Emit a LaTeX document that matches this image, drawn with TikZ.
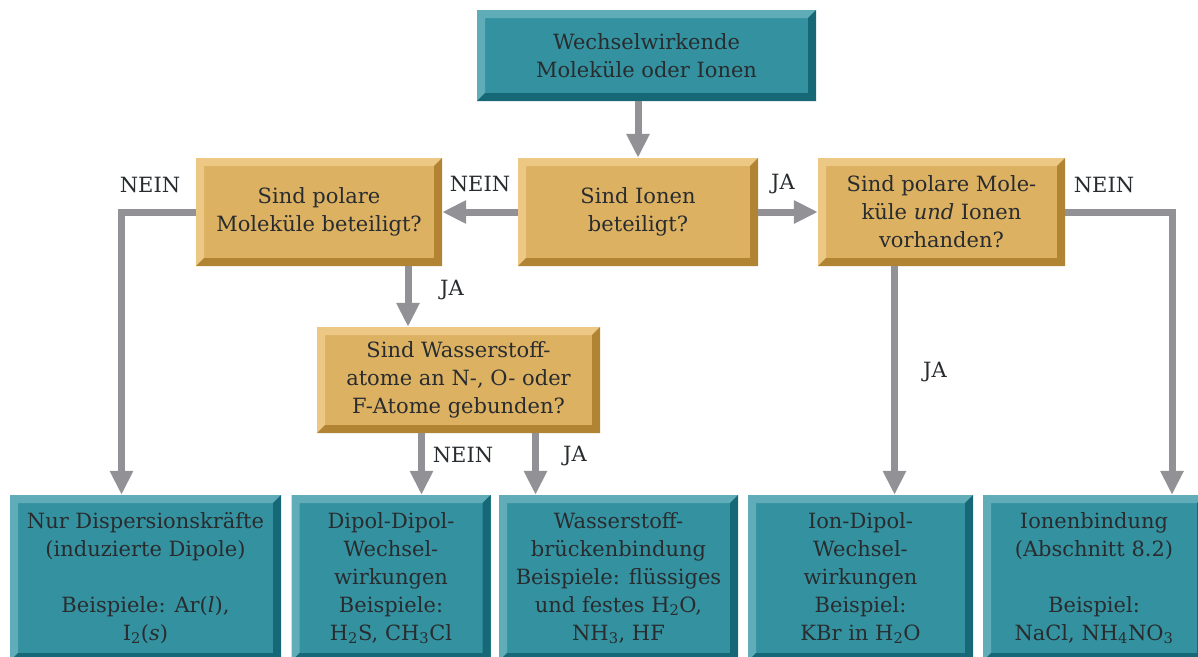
\documentclass[tikz,border=0pt]{standalone}
\usepackage{fontspec}
\setmainfont{DejaVu Serif}
\usetikzlibrary{arrows.meta}
\definecolor{tealface}{RGB}{52,146,160}
\definecolor{teallight}{RGB}{96,173,185}
\definecolor{tealdark}{RGB}{22,104,118}
\definecolor{goldface}{RGB}{221,177,98}
\definecolor{goldlight}{RGB}{236,200,132}
\definecolor{golddark}{RGB}{176,132,50}
\definecolor{arrgray}{RGB}{146,146,150}
\definecolor{txtgray}{RGB}{40,44,47}
\tikzset{
  every node/.style={font=\fontsize{21}{28}\selectfont},
  bevel/.style n args={3}{fill=#1, text=txtgray, inner sep=0pt, align=center,
    path picture={
      \fill[#2] (path picture bounding box.north west) -- (path picture bounding box.north east)
        -- ([shift={(-8pt,-8pt)}]path picture bounding box.north east)
        -- ([shift={(8pt,-8pt)}]path picture bounding box.north west)
        -- ([shift={(8pt,8pt)}]path picture bounding box.south west)
        -- (path picture bounding box.south west) -- cycle;
      \fill[#3] (path picture bounding box.north east) -- (path picture bounding box.south east)
        -- (path picture bounding box.south west)
        -- ([shift={(8pt,8pt)}]path picture bounding box.south west)
        -- ([shift={(-8pt,8pt)}]path picture bounding box.south east)
        -- ([shift={(-8pt,-8pt)}]path picture bounding box.north east) -- cycle;
    }},
  question/.style={bevel={goldface}{goldlight}{golddark}},
  result/.style={bevel={tealface}{teallight}{tealdark}, minimum height=166pt},
  arr/.style={draw=arrgray, line width=7pt, line join=miter,
    -{Triangle[width=22pt,length=24pt]}},
  lbl/.style={text=txtgray, inner sep=0pt}
}
\begin{document}
\begin{tikzpicture}[x=1pt,y=-1pt]
\path[use as bounding box, clip] (0,0) rectangle (1198,656);

\node[result, minimum width=339pt, minimum height=91pt] (top) at (646.5,55.5)
  {Wechselwirkende\\Moleküle oder Ionen};

\node[question, minimum width=240pt, minimum height=108pt] (ionen) at (638,212)
  {Sind Ionen\\beteiligt?};
\node[question, minimum width=246pt, minimum height=108pt] (polar) at (319,212)
  {Sind polare\\Moleküle beteiligt?};
\node[question, minimum width=247pt, minimum height=108pt] (both) at (941.5,212)
  {Sind polare Mole-\\küle \textit{und} Ionen\\vorhanden?};
\node[question, minimum width=283pt, minimum height=106pt] (hbond) at (458.5,380)
  {Sind Wasserstoff-\\atome an N-, O- oder\\F-Atome gebunden?};

\node[result, minimum width=271pt] (disp) at (145.5,578)
  {Nur Dispersionskräfte\\(induzierte Dipole)\\[28pt]Beispiele: Ar(\textit{l}),\\I\textsubscript{2}(\textit{s})};
\node[result, minimum width=199pt] (dd) at (391,578)
  {Dipol-Dipol-\\Wechsel-\\wirkungen\\Beispiele:\\H\textsubscript{2}S, CH\textsubscript{3}Cl};
\node[result, minimum width=239pt] (hb) at (618.5,578)
  {Wasserstoff-\\brückenbindung\\Beispiele: flüssiges\\und festes H\textsubscript{2}O,\\NH\textsubscript{3}, HF};
\node[result, minimum width=225pt] (iondip) at (860.5,578)
  {Ion-Dipol-\\Wechsel-\\wirkungen\\Beispiel:\\KBr in H\textsubscript{2}O};
\node[result, minimum width=222pt] (ionic) at (1094,578)
  {Ionenbindung\\(Abschnitt 8.2)\\[28pt]Beispiel:\\NaCl, NH\textsubscript{4}NO\textsubscript{3}};

% connectors
\draw[arr] (top.south -| ionen.north) -- (ionen.north);
\draw[arr] (ionen.west) -- (polar.east);
\draw[arr] (ionen.east) -- (both.west);
\draw[arr] (polar.west) -| ([xshift=-24pt]disp.north);
\draw[arr] ([xshift=89pt]polar.south) -- ([xshift=89pt]polar.south |- hbond.north);
\draw[arr] ([xshift=-37pt]hbond.south) -- ([xshift=-37pt]hbond.south |- dd.north);
\draw[arr] ([xshift=77pt]hbond.south) -- ([xshift=77pt]hbond.south |- hb.north);
\draw[arr] ([xshift=-47pt]both.south) -- ([xshift=-47pt]both.south |- iondip.north);
\draw[arr] (both.east) -| ([xshift=78pt]ionic.north);

\node[lbl] (nein1) at (150,185) {NEIN};
\node[lbl] (nein2) at (480,184) {NEIN};
\node[lbl] (ja1) at (783,184) {JA};
\node[lbl] (nein3) at (1104,185) {NEIN};
\node[lbl] (ja2) at (452,290) {JA};
\node[lbl] (nein4) at (463,455) {NEIN};
\node[lbl] (ja3) at (575,456) {JA};
\node[lbl] (ja4) at (935,372) {JA};
\end{tikzpicture}
\end{document}
